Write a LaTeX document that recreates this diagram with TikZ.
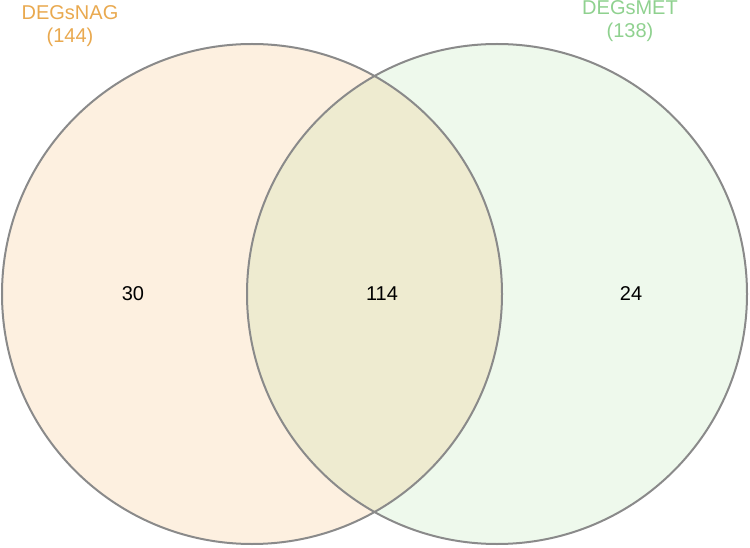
\documentclass[tikz,border=0pt]{standalone}
\usepackage{fontspec}
\setmainfont{Liberation Sans}
\definecolor{nagfill}{HTML}{FDF0E0}
\definecolor{metfill}{HTML}{EEF9EC}
\definecolor{bothfill}{HTML}{EEEBD0}
\definecolor{nagtext}{HTML}{E9A94F}
\definecolor{mettext}{HTML}{8FD18F}
\definecolor{ringgray}{HTML}{8A8A8A}
\begin{document}
\begin{tikzpicture}[x=1pt,y=1pt]
\tikzstyle{every node}=[font=\fontsize{20}{23}\selectfont]
\tikzstyle{ring}=[draw=ringgray,line width=2pt]
\tikzstyle{setname}=[align=center,font=\fontsize{20}{23}\selectfont]
\useasboundingbox (0,0) rectangle (750,547);
\coordinate (cnag) at (252,253);
\coordinate (cmet) at (497,253);
\fill[nagfill] (cnag) circle (250);
\fill[metfill] (cmet) circle (250);
\begin{scope}
\clip (cnag) circle (250);
\fill[bothfill] (cmet) circle (250);
\end{scope}
\draw[ring] (cnag) circle (250);
\draw[ring] (cmet) circle (250);
\node (only30) at (133,253) {30};
\node (both114) at (382,253) {114};
\node (only24) at (631,253) {24};
\node[setname,text=nagtext] (lnag) at (70,521) {DEGsNAG\\(144)};
\node[setname,text=mettext] (lmet) at (630,526) {DEGsMET\\(138)};
\end{tikzpicture}
\end{document}
